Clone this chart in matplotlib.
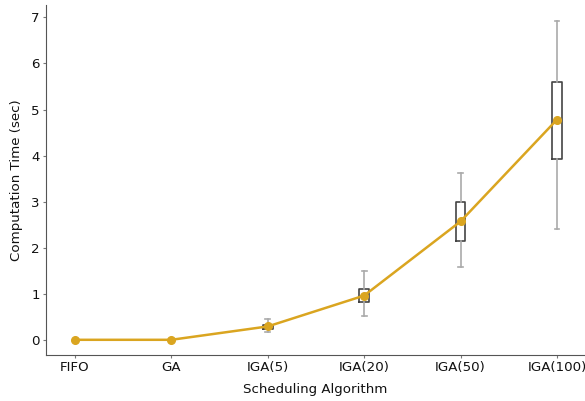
import matplotlib.pyplot as plt

algorithms = ["FIFO", "GA", "IGA(5)", "IGA(20)", "IGA(50)", "IGA(100)"]
mean_time = [0.0, 0.0, 0.29, 0.96, 2.57, 4.78]

# box stats for the iterative GA runs (whisker low, q1, q3, whisker high)
box_idx = [2, 3, 4, 5]
whisker_lo = [0.18, 0.51, 1.58, 2.40]
q1 = [0.24, 0.82, 2.15, 3.93]
q3 = [0.32, 1.10, 3.00, 5.60]
whisker_hi = [0.46, 1.50, 3.62, 6.93]

gold = "#DAA520"

fig = plt.figure(figsize=(5.85, 4.01), dpi=100)
ax = fig.add_axes([46 / 585, 46 / 401, 539 / 585, 350 / 401])

stats = []
for lo, a, b, hi in zip(whisker_lo, q1, q3, whisker_hi):
    stats.append({"whislo": lo, "q1": a, "med": (a + b) / 2, "q3": b,
                  "whishi": hi, "fliers": []})
ax.bxp(stats, positions=box_idx, widths=0.1, showfliers=False,
       boxprops=dict(color="#444444", linewidth=1.2),
       medianprops=dict(linewidth=0),
       whiskerprops=dict(color="#aaaaaa", linewidth=1.2),
       capprops=dict(color="#aaaaaa", linewidth=1.2),
       manage_ticks=False)

ax.plot(range(len(algorithms)), mean_time, color=gold, linewidth=1.8,
        marker="o", markersize=5.5, zorder=5)

ax.set_xticks(range(len(algorithms)))
ax.set_xticklabels(algorithms)
ax.set_yticks(range(0, 8))
ax.tick_params(labelsize=9.6, length=2.5, color="#777777", pad=2,
               labelcolor="#111111")
ax.set_xlim(-0.3, -0.3 + 539 / 96.4)
ax.set_ylim(-0.33, 7.27)
ax.spines["top"].set_visible(False)
ax.spines["right"].set_visible(False)
for s in ("left", "bottom"):
    ax.spines[s].set_color("#555555")
ax.set_xlabel("Scheduling Algorithm", fontsize=9.6, labelpad=6, color="#111111")
ax.set_ylabel("Computation Time (sec)", fontsize=9.6, labelpad=6, color="#111111")

fig.savefig("out.png", dpi=100)
